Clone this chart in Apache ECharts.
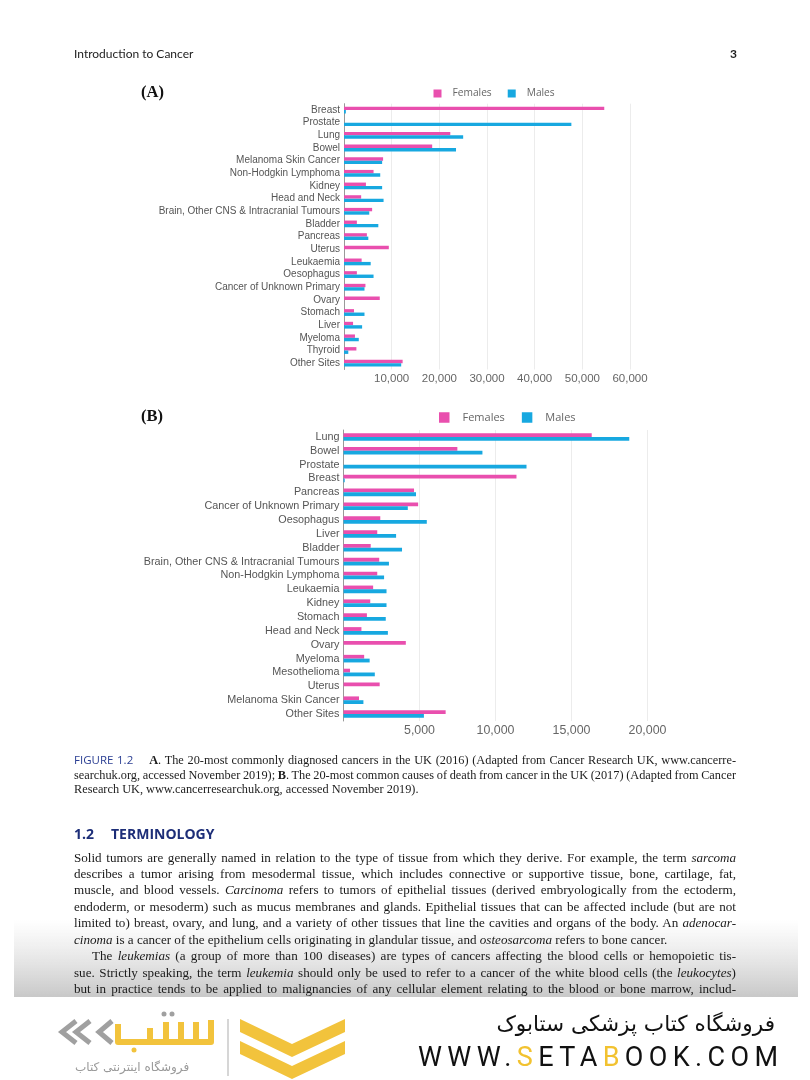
<!DOCTYPE html>
<html><head><meta charset="utf-8">
<script src="https://cdn.jsdelivr.net/npm/echarts@6/dist/echarts.min.js"></script>
<style>
html,body{margin:0;padding:0;background:#fff;}
#page{position:relative;width:810px;height:1080px;overflow:hidden;background:#fff;}
#chart{position:absolute;left:0;top:0;width:810px;height:1080px;}
.abs{position:absolute;}
.ln{display:block;white-space:nowrap;width:max-content;}
#cap{left:74px;top:753px;font-family:'Liberation Serif','Times New Roman',serif;font-size:12.3px;line-height:14.7px;color:#1c1c1c;}
.fig{font-family:'Open Sans','Liberation Sans',sans-serif;color:#2b3f93;font-size:11.5px;}
#clip{left:0;top:0;width:810px;height:997px;overflow:hidden;}
#para{left:74px;top:849.5px;font-family:'Liberation Serif','Times New Roman',serif;font-size:13.1px;line-height:16.45px;color:#1a1a1a;}
#head{left:74px;top:823.5px;font-family:'Open Sans','Liberation Sans',sans-serif;font-weight:700;font-size:14px;line-height:20px;color:#1d2e78;white-space:nowrap;}
#hdr{left:74px;top:46px;font-family:'Lato','Liberation Sans',sans-serif;font-size:12px;line-height:16px;color:#222;}
#pg{left:730px;top:46px;font-family:'Lato','Liberation Sans',sans-serif;font-size:12px;line-height:16px;color:#222;font-weight:bold;}
#fa{right:35px;top:1009px;font-family:'DejaVu Sans',sans-serif;font-size:21.6px;line-height:30px;color:#111;direction:rtl;white-space:nowrap;}
#www{left:418px;top:1041px;font-family:'Roboto','Liberation Sans',sans-serif;font-size:27px;line-height:32px;color:#111;white-space:nowrap;}
#www .y{color:#f2c230;}
#sub{left:75px;top:1058px;font-family:'DejaVu Sans',sans-serif;font-size:12px;line-height:18px;color:#9a9a9a;direction:rtl;white-space:nowrap;}
</style>
</head><body>
<div id="page">
<div id="chart"></div>
<div id="hdr" class="abs">Introduction to Cancer</div>
<div id="pg" class="abs">3</div>
<div id="cap" class="abs">
<div class="ln j"><span class="fig">FIGURE 1.2</span><span style="display:inline-block;width:16px"></span><b>A</b>. The 20-most commonly diagnosed cancers in the UK (2016) (Adapted from Cancer Research UK, www.cancerre-</div>
<div class="ln j">searchuk.org, accessed November 2019); <b>B</b>. The 20-most common causes of death from cancer in the UK (2017) (Adapted from Cancer</div>
<div class="ln">Research UK, www.cancerresearchuk.org, accessed November 2019).</div>
</div>
<div id="head" class="abs">1.2<span style="display:inline-block;width:17px"></span>TERMINOLOGY</div>
<div id="clip" class="abs">
<div id="para" class="abs">
<div class="ln j">Solid tumors are generally named in relation to the type of tissue from which they derive. For example, the term <i>sarcoma</i></div>
<div class="ln j">describes a tumor arising from mesodermal tissue, which includes connective or supportive tissue, bone, cartilage, fat,</div>
<div class="ln j">muscle, and blood vessels. <i>Carcinoma</i> refers to tumors of epithelial tissues (derived embryologically from the ectoderm,</div>
<div class="ln j">endoderm, or mesoderm) such as mucus membranes and glands. Epithelial tissues that can be affected include (but are not</div>
<div class="ln j">limited to) breast, ovary, and lung, and a variety of other tissues that line the cavities and organs of the body. An <i>adenocar-</i></div>
<div class="ln"><i>cinoma</i> is a cancer of the epithelium cells originating in glandular tissue, and <i>osteosarcoma</i> refers to bone cancer.</div>
<div class="ln j" data-indent="18">The <i>leukemias</i> (a group of more than 100 diseases) are types of cancers affecting the blood cells or hemopoietic tis-</div>
<div class="ln j">sue. Strictly speaking, the term <i>leukemia</i> should only be used to refer to a cancer of the white blood cells (the <i>leukocytes</i>)</div>
<div class="ln j">but in practice tends to be applied to malignancies of any cellular element relating to the blood or bone marrow, includ-</div>
</div>
</div>
<div id="fa" class="abs">فروشگاه کتاب پزشکی ستابوک</div>
<div id="www" class="abs">WWW.<span class="y">S</span>ETA<span class="y">B</span>OOK.COM</div>
<div id="sub" class="abs">فروشگاه اینترنتی کتاب</div>
</div>
<script>
// ---- Data ----
const catsA = ['Breast','Prostate','Lung','Bowel','Melanoma Skin Cancer','Non-Hodgkin Lymphoma','Kidney','Head and Neck','Brain, Other CNS & Intracranial Tumours','Bladder','Pancreas','Uterus','Leukaemia','Oesophagus','Cancer of Unknown Primary','Ovary','Stomach','Liver','Myeloma','Thyroid','Other Sites'];
const femalesA = [54600,0,22300,18500,8200,6200,4600,3600,5900,2700,4800,9400,3700,2700,4500,7500,2100,1900,2300,2600,12300];
const malesA = [390,47700,25000,23500,8000,7600,8000,8300,5300,7200,5100,0,5600,6200,4300,0,4300,3800,3100,900,12000];

const catsB = ['Lung','Bowel','Prostate','Breast','Pancreas','Cancer of Unknown Primary','Oesophagus','Liver','Bladder','Brain, Other CNS & Intracranial Tumours','Non-Hodgkin Lymphoma','Leukaemia','Kidney','Stomach','Head and Neck','Ovary','Myeloma','Mesothelioma','Uterus','Melanoma Skin Cancer','Other Sites'];
const femalesB = [16330,7490,0,11380,4640,4910,2420,2220,1790,2350,2220,1950,1760,1540,1180,4100,1360,430,2380,1020,6720];
const malesB = [18800,9140,12040,80,4770,4230,5480,3460,3850,2990,2670,2830,2830,2780,2920,0,1720,2060,0,1310,5290];

const axisA = {min:0, max:60000, step:10000};
const axisB = {min:0, max:20000, step:5000};
const legendNames = ['Females','Males'];
const PINK = '#e94fae', BLUE = '#17a8e0';

// ---- justify text lines ----
function justifyLines(){
  document.querySelectorAll('.ln.j').forEach(el=>{
    const ind = +(el.dataset.indent||0);
    el.style.marginLeft = ind+'px';
    el.style.wordSpacing = '0px';
    const w = el.getBoundingClientRect().width;
    const n = (el.textContent.match(/ /g)||[]).length;
    if(n) el.style.wordSpacing = ((662-ind-w)/n)+'px';
  });
  const www = document.getElementById('www');
  const ww = www.getBoundingClientRect().width;
  const chars = www.textContent.length;
  www.style.letterSpacing = ((360-ww)/(chars-1))+'px';
}
justifyLines();

// ---- chart ----
const chart = echarts.init(document.getElementById('chart'), null, {renderer:'canvas'});
const fmt = v => v.toLocaleString('en-US');
function xAx(g, ax, fs, mg){
  return {gridIndex:g, type:'value', min:ax.min, max:ax.max, interval:ax.step,
    axisLine:{show:false}, axisTick:{show:false},
    splitLine:{lineStyle:{color:'#ececec', width:1}},
    axisLabel:{showMinLabel:false, fontSize:fs, color:'#666', margin:mg, fontFamily:'Liberation Sans', formatter:fmt}};
}
function yAx(g, cats, fs){
  return {gridIndex:g, type:'category', data:cats, inverse:true,
    axisTick:{show:false}, axisLine:{lineStyle:{color:'#999', width:1}},
    axisLabel:{interval:0, fontSize:fs, color:'#555', margin:4, fontFamily:'Liberation Sans'}};
}
function legendAt(left, top, sz, fs, pad, gap){
  return {data:legendNames, left:left, top:top, orient:'horizontal', icon:'rect', itemWidth:sz, itemHeight:sz, itemGap:gap,
    selectedMode:false, padding:0,
    textStyle:{fontSize:fs, color:'#666', fontFamily:'Open Sans', padding:[0,0,0,pad]}};
}
function bar(name, data, xi, color, bw){
  return {name:name, type:'bar', xAxisIndex:xi, yAxisIndex:xi, data:data, barWidth:bw, barGap:'0%',
    itemStyle:{color:color}, silent:true, animation:false};
}
const option = {
  animation:false,
  title:[
    {text:'(A)', left:141, top:84, padding:0, textStyle:{fontFamily:'Liberation Serif', fontWeight:'bold', fontSize:16.5, color:'#111'}},
    {text:'(B)', left:141, top:408, padding:0, textStyle:{fontFamily:'Liberation Serif', fontWeight:'bold', fontSize:16.5, color:'#111'}}
  ],
  legend:[legendAt(433.5, 88.5, 8, 10.2, 6, 16), legendAt(439, 412, 10.5, 11, 8, 17)],
  grid:[
    {left:344, top:103.7, width:286, height:265.8},
    {left:343.5, top:430, width:304, height:291}
  ],
  xAxis:[xAx(0, axisA, 11.5, 3), xAx(1, axisB, 12.4, 4)],
  yAxis:[yAx(0, catsA, 10), yAx(1, catsB, 10.8)],
  series:[
    bar('Females', femalesA, 0, PINK, 3.4),
    bar('Males', malesA, 0, BLUE, 3.4),
    bar('Females', femalesB, 1, PINK, 3.8),
    bar('Males', malesB, 1, BLUE, 3.8)
  ],
  graphic:[
    {type:'rect', z:-10, shape:{x:14, y:920, width:784, height:77},
     style:{fill:new echarts.graphic.LinearGradient(0,0,0,1,[{offset:0,color:'rgba(215,215,215,0)'},{offset:1,color:'rgba(200,200,200,1)'}])}},
    {type:'line', shape:{x1:228, y1:1019, x2:228, y2:1076}, style:{stroke:'#c8c8c8', lineWidth:1.5}},
    {type:'polygon', shape:{points:[[240,1019],[292,1044],[345,1019],[345,1032],[292,1057],[240,1032]]}, style:{fill:'#f2c33c'}},
    {type:'polygon', shape:{points:[[240,1041],[292,1066],[345,1041],[345,1054],[292,1079],[240,1054]]}, style:{fill:'#f2c33c'}},
    {type:'polyline', shape:{points:[[76,1021],[62,1032],[76,1043]]}, style:{stroke:'#a0a0a0', lineWidth:5, fill:null}},
    {type:'polyline', shape:{points:[[90,1021],[76,1032],[90,1043]]}, style:{stroke:'#a0a0a0', lineWidth:5, fill:null}},
    {type:'polyline', shape:{points:[[112,1021],[99,1032],[112,1043]]}, style:{stroke:'#a0a0a0', lineWidth:5, fill:null}},
    {type:'polyline', shape:{points:[[118,1024],[118,1042],[211,1042],[211,1020]]}, style:{stroke:'#f2c33c', lineWidth:6, fill:null, lineJoin:'round'}},
    {type:'line', shape:{x1:150, y1:1028, x2:150, y2:1042}, style:{stroke:'#f2c33c', lineWidth:6}},
    {type:'line', shape:{x1:166, y1:1022, x2:166, y2:1042}, style:{stroke:'#f2c33c', lineWidth:6}},
    {type:'line', shape:{x1:181, y1:1022, x2:181, y2:1042}, style:{stroke:'#f2c33c', lineWidth:6}},
    {type:'line', shape:{x1:196, y1:1022, x2:196, y2:1042}, style:{stroke:'#f2c33c', lineWidth:6}},
    {type:'circle', shape:{cx:164, cy:1014, r:2.5}, style:{fill:'#a0a0a0'}},
    {type:'circle', shape:{cx:172, cy:1014, r:2.5}, style:{fill:'#a0a0a0'}},
    {type:'circle', shape:{cx:134, cy:1050, r:2.5}, style:{fill:'#f2c33c'}}
  ]
};
chart.setOption(option);
</script>
</body></html>
